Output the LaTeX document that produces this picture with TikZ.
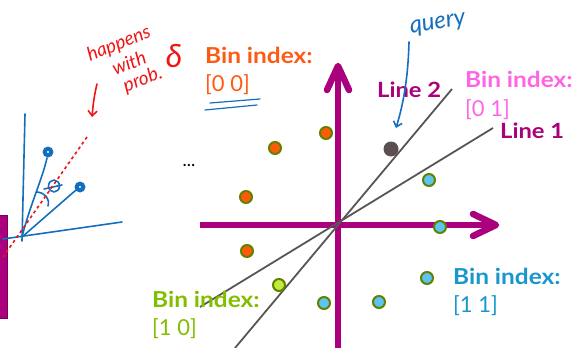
\documentclass[tikz,border=0pt]{standalone}
\usepackage{fontspec}
\setmainfont{Lato}
\usetikzlibrary{arrows.meta}
\definecolor{axismag}{RGB}{170,0,125}
\definecolor{linegray}{RGB}{90,85,85}
\definecolor{ptborder}{RGB}{95,130,0}
\definecolor{ptorange}{RGB}{255,90,10}
\definecolor{ptlime}{RGB}{195,235,60}
\definecolor{ptblue}{RGB}{95,195,240}
\definecolor{ptquery}{RGB}{90,80,80}
\definecolor{txtorange}{RGB}{255,90,20}
\definecolor{txtpink}{RGB}{255,100,230}
\definecolor{txtblue}{RGB}{25,150,205}
\definecolor{txtgreen}{RGB}{130,190,0}
\definecolor{txtmag}{RGB}{170,0,120}
\definecolor{penblue}{RGB}{20,110,190}
\definecolor{penred}{RGB}{240,20,20}
\begin{document}
\begin{tikzpicture}[x=1pt,y=-1pt,
  axisline/.style={draw=axismag, line width=6.5pt},
  axishead/.style={draw=axismag, line width=6.5pt, line cap=round, line join=round},
  sepline/.style={draw=linegray, line width=1.8pt},
  pt/.style={circle, draw=ptborder, line width=2pt, minimum size=12pt, inner sep=0pt},
  binhead/.style={anchor=base west, inner sep=0pt, font=\bfseries\fontsize{22}{24}\selectfont\addfontfeatures{FakeStretch=1.11}},
  binval/.style={anchor=base west, inner sep=0pt, font=\fontsize{22}{24}\selectfont},
  linelab/.style={anchor=base west, inner sep=0pt, text=txtmag, font=\bfseries\fontsize{21}{22}\selectfont\addfontfeatures{FakeStretch=1.13}},
  pen/.style={draw=penblue, line width=1.6pt, line cap=round, line join=round},
  redpen/.style={draw=penred, line width=1.6pt, line cap=round, line join=round},
  hand/.style={inner sep=0pt, font=\itshape\fontsize{19}{19}\selectfont}]
\useasboundingbox (0,0) rectangle (579,348);

% left magenta bar
\node[draw=axismag!70!black, fill=axismag, line width=1pt, minimum width=8pt, minimum height=103pt, inner sep=0pt, anchor=north west] (bar) at (-1,215) {};

% hand-drawn sketch
\coordinate (o) at (22,237);
\draw[pen] (25,114) -- (22,241);
\draw[pen] (3,239) -- (122,222);
\draw[pen] (o) .. controls (30,205) and (42,180) .. (47,158);
\draw[pen] (o) -- (76,190);
\fill[penblue] (48,152) circle (5.5);
\fill[white] (48,152) circle (1.2);
\fill[penblue] (80,187) circle (5.5);
\fill[white] (80,187) circle (1.2);
\draw[pen] (37,192) .. controls (45,193) and (50,198) .. (48,206);
\draw[pen] (54,186) ellipse (5.5 and 6);
\draw[pen] (44,189) -- (62,185);
\draw[penred, line width=1.6pt, dash pattern=on 3pt off 3pt] (87,137) -- (3,257);

% red annotation
\node[hand, text=penred, rotate=22] (w1) at (119,44) {happens};
\node[hand, text=penred, rotate=22] (w2) at (129,63) {with};
\node[hand, text=penred, rotate=22] (w3) at (143,80) {prob.};
\node[hand, text=penred, font=\itshape\fontsize{32}{32}\selectfont] (delta) at (174,56) {δ};
\draw[redpen, -{Straight Barb[length=5pt,width=9pt]}] (97,84) .. controls (94,96) and (93,106) .. (92,117);

% axes
\coordinate (vbot) at (338,350);
\coordinate (vtip) at (338,66);
\coordinate (hleft) at (200,225);
\coordinate (htip) at (496,225);
\draw[axisline] (vbot) -- (vtip);
\draw[axishead] (327,90) -- (vtip) -- (349,90);
\draw[axisline] (hleft) -- (htip);
\draw[axishead] (473,214) -- (htip) -- (473,236);

% separating lines
\coordinate (l1a) at (200,307);
\coordinate (l1b) at (493,128);
\coordinate (l2a) at (235,348);
\coordinate (l2b) at (452,89);
\draw[sepline] (l1a) -- (l1b);
\draw[sepline] (l2a) -- (l2b);

% points
\node[pt, fill=ptorange] (o1) at (275,148) {};
\node[pt, fill=ptorange] (o2) at (326,133) {};
\node[pt, fill=ptorange] (o3) at (246,197) {};
\node[pt, fill=ptorange] (o4) at (247,251) {};
\node[pt, fill=ptlime] (g1) at (279,285) {};
\node[pt, fill=ptblue] (b1) at (429,180) {};
\node[pt, fill=ptblue] (b2) at (440,227) {};
\node[pt, fill=ptblue] (b3) at (427,278) {};
\node[pt, fill=ptblue] (b4) at (324,303) {};
\node[pt, fill=ptblue] (b5) at (379,302) {};
\node[circle, fill=ptquery, minimum size=15pt, inner sep=0pt] (q) at (391,149) {};

% labels
\node[binhead, text=txtorange] (bi00) at (205,63) {Bin index:};
\node[binval, text=txtorange] (v00) at (205,91) {[0 0]};
\node[binhead, text=txtpink] (bi01) at (465,87) {Bin index:};
\node[binval, text=txtpink] (v01) at (465,116) {[0 1]};
\node[binhead, text=txtblue] (bi11) at (453,284) {Bin index:};
\node[binval, text=txtblue] (v11) at (453,312) {[1 1]};
\node[binhead, text=txtgreen] (bi10) at (152,307) {Bin index:};
\node[binval, text=txtgreen] (v10) at (152,335) {[1 0]};
\node[linelab] (lab2) at (377,97) {Line 2};
\node[linelab] (lab1) at (500,138) {Line 1};
\node[inner sep=0pt, font=\fontsize{18}{18}\selectfont] (dots) at (189,166) {...};

% underline under [0 0]
\draw[pen, line width=1.2pt] (210,103) -- (260,99);
\draw[pen, line width=1.2pt] (205,110) -- (257,105);

% query annotation
\node[hand, text=penblue, rotate=10, font=\itshape\fontsize{24}{24}\selectfont] (qlab) at (438,25) {query};
\draw[pen, -{Straight Barb[length=5pt,width=9pt]}] (409,42) .. controls (408,80) and (403,105) .. (396,128);
\end{tikzpicture}
\end{document}
